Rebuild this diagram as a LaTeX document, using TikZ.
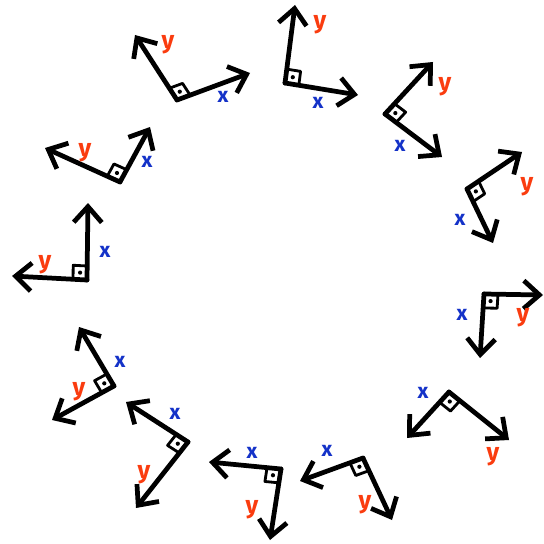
\documentclass[tikz,border=0pt]{standalone}
\usepackage{fontspec}
\setsansfont{Fira Sans}
\usepackage{xcolor}
\usetikzlibrary{arrows.meta,calc}

\definecolor{axisred}{RGB}{250,60,15}
\definecolor{axisblue}{RGB}{20,50,200}

\begin{document}
\begin{tikzpicture}[
		x=0.02cm, y=-0.02cm,
		axis/.style={
			line width=2.7pt, line cap=round, line join=round,
			-{Straight Barb[length=9pt, width=16pt, line width=2.7pt]}
		},
		rbox/.style={line width=1.6pt, line join=round},
		xlab/.style={text=axisblue, font=\sffamily\bfseries\fontsize{12}{12}\selectfont},
		ylab/.style={text=axisred, font=\sffamily\bfseries\fontsize{14}{14}\selectfont},
		]
		
		\useasboundingbox (0,0) rectangle (544,544);
		
		% origin / x tip / y tip / x label / y label
		\foreach \n/\o/\xt/\yt/\xl/\yl in {
			a/{285,83}/{358,95}/{295,5}/{318,103}/{320,25},
			b/{385,114}/{442,157}/{433,62}/{400,146}/{445,87},
			c/{467,189}/{493,243}/{522,152}/{460,220}/{527,187},
			d/{484,294}/{480,358}/{543,295}/{462,315}/{523,318},
			e/{449,392}/{407,438}/{509,440}/{423,393}/{493,457},
			f/{363,458}/{300,481}/{392,520}/{327,451}/{365,505},
			g/{281,469}/{209,462}/{270,540}/{252,453}/{252,510},
			h/{188,442}/{126,402}/{136,508}/{175,414}/{144,475},
			i/{114,386}/{79,327}/{52,420}/{120,362}/{79,392},
			j/{87,280}/{88,203}/{12,276}/{105,252}/{45,265},
			k/{120,182}/{150,127}/{45,148}/{147,162}/{85,153},
			l/{177,100}/{250,73}/{135,35}/{223,97}/{168,45}} {
			\coordinate (o\n) at (\o);
			\coordinate (x\n) at (\xt);
			\coordinate (y\n) at (\yt);
			\draw[axis] (o\n) -- (x\n);
			\draw[axis] (o\n) -- (y\n);
			\coordinate (sx\n) at ($(o\n)!0.28cm!(x\n)$);
			\coordinate (sy\n) at ($(o\n)!0.28cm!(y\n)$);
			\draw[rbox] (sx\n) -- ($(sx\n)+(sy\n)-(o\n)$) -- (sy\n);
			\fill ($0.5*(sx\n)+0.5*(sy\n)$) circle (1.2pt);
			\node[xlab] (lx\n) at (\xl) {x};
			\node[ylab] (ly\n) at (\yl) {y};
		}
		
	\end{tikzpicture}
\end{document}
